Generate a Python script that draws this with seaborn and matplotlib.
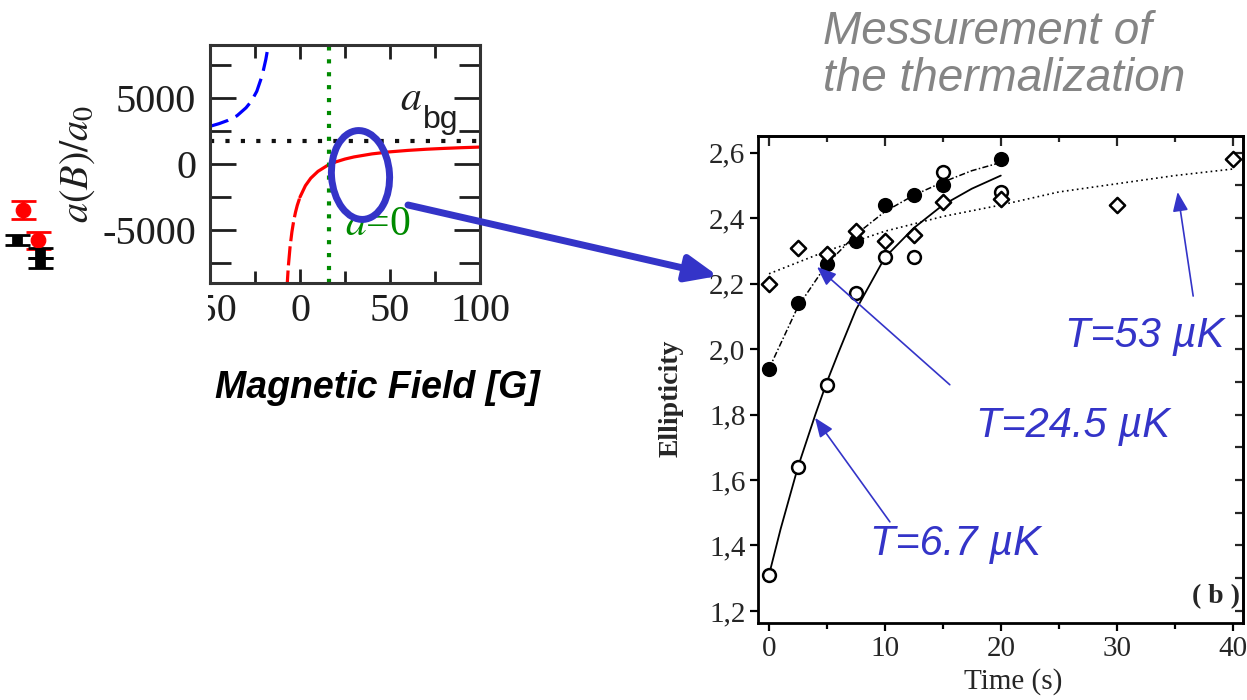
import matplotlib
matplotlib.use("Agg")
import matplotlib.pyplot as plt
import seaborn as sns
from matplotlib.patches import Ellipse, FancyArrowPatch, Rectangle
from matplotlib.ticker import MultipleLocator, NullFormatter

# ---------------- data: left panel (scattering length vs field) ----------------
field_upper_branch = [-50, -45, -40, -35, -30, -27, -24, -21, -19, -17.3]
a_upper_branch = [2850, 3050, 3300, 3650, 4250, 4750, 5500, 6700, 7900, 9200]
field_lower_dashed = [-7.3, -6.5, -5.5, -4.5, -3.5, -2.5, -1.5, 0]
a_lower_dashed = [-9500, -7770, -6240, -5140, -4300, -3650, -3120, -2500]
field_lower_solid = [0, 3, 6, 10, 15, 20, 25, 30, 40, 50, 60, 70, 80, 90, 100]
a_lower_solid = [-2500, -1640, -1070, -555, -130, 165, 375, 535, 765, 920,
                 1030, 1115, 1180, 1235, 1280]
a_background = 1750
field_zero_crossing = 16
field_ticks = [-50, 0, 50, 100]
field_tick_labels = ["-50", "0", "50", "100"]
a_ticks = [-5000, 0, 5000]
a_tick_labels = ["-5000", "0", "5000"]

# fragments of a neighbouring (cropped) figure visible at the far left
crop_red_field = [-153.9, -145.6]
crop_red_a = [-3480, -5760]
crop_black_field = [-144.4, -144.4, -157.2]
crop_black_a = [-6740, -7500, -5760]

# ---------------- data: right panel (ellipticity vs time) ----------------
time_s = [0, 2.5, 5, 7.5, 10, 12.5, 15, 20]
ell_24_5 = [1.94, 2.14, 2.26, 2.33, 2.44, 2.47, 2.50, 2.58]
ell_6_7 = [1.31, 1.64, 1.89, 2.17, 2.28, 2.28, 2.54, 2.48]
time_53 = [0, 2.5, 5, 7.5, 10, 12.5, 15, 20, 30, 40]
ell_53 = [2.20, 2.31, 2.29, 2.36, 2.33, 2.35, 2.45, 2.46, 2.44, 2.58]

fit_time_24_5 = [0, 2.5, 5, 7.5, 10, 12.5, 15, 17.5, 20]
fit_24_5 = [1.94, 2.13, 2.26, 2.35, 2.42, 2.47, 2.51, 2.545, 2.57]
fit_time_6_7 = [0, 1, 2.5, 4, 5, 6, 7.5, 10, 12.5, 15, 17.5, 20]
fit_6_7 = [1.31, 1.45, 1.64, 1.80, 1.90, 1.99, 2.12, 2.28, 2.37, 2.44, 2.49, 2.53]
fit_time_53 = [0, 5, 10, 15, 20, 25, 30, 35, 40]
fit_53 = [2.23, 2.30, 2.36, 2.405, 2.44, 2.48, 2.505, 2.53, 2.55]

time_ticks = [0, 10, 20, 30, 40]
time_tick_labels = ["0", "10", "20", "30", "40"]
ell_ticks = [1.2, 1.4, 1.6, 1.8, 2.0, 2.2, 2.4, 2.6]
ell_tick_labels = ["1,2", "1,4", "1,6", "1,8", "2,0", "2,2", "2,4", "2,6"]

labels_T = ["T=53 µK", "T=24.5 µK", "T=6.7 µK"]
title_lines = ["Messurement of", "the thermalization"]

# ---------------- style ----------------
sns.set_style("ticks")
plt.rcParams["font.family"] = ["Liberation Serif", "DejaVu Serif"]
plt.rcParams["mathtext.fontset"] = "stix"

W, H = 1247, 700
fig = plt.figure(figsize=(W / 100, H / 100), dpi=100)
fig.patch.set_facecolor("white")


def fig_rect(x0, y0, x1, y1):
    return [x0 / W, 1 - y1 / H, (x1 - x0) / W, (y1 - y0) / H]


BLUE = "#3434c8"
GREEN = "#008a00"
DARK = "#1e1e1e"
SANS = ["Liberation Sans", "DejaVu Sans"]

# ================= left panel =================
ax1 = fig.add_axes(fig_rect(210, 45, 480, 283))
sns.lineplot(x=field_upper_branch, y=a_upper_branch, ax=ax1, color="#0000ff",
             lw=2.3, linestyle=(0, (6, 2.6)), sort=False, estimator=None)
sns.lineplot(x=field_lower_dashed, y=a_lower_dashed, ax=ax1, color="#ff0000",
             lw=2.3, linestyle=(0, (6, 1.6)), sort=False, estimator=None)
sns.lineplot(x=field_lower_solid, y=a_lower_solid, ax=ax1, color="#ff0000",
             lw=2.3, sort=False, estimator=None)
ax1.axhline(a_background, color="#111111", lw=3, linestyle=(0, (1, 2.7)))
ax1.axvline(field_zero_crossing, color=GREEN, lw=3, linestyle=(0, (1, 2.1)))

ax1.set_xlim(-50, 100)
ax1.set_ylim(-9000, 9000)
ax1.set_xticks(field_ticks, labels=field_tick_labels)
ax1.set_yticks(a_ticks, labels=a_tick_labels)
ax1.xaxis.set_minor_locator(MultipleLocator(25))
ax1.yaxis.set_minor_locator(MultipleLocator(2500))
ax1.tick_params(which="both", direction="in", top=True, right=True, width=2,
                color=DARK, labelcolor=DARK, labelsize=29)
ax1.tick_params(axis="y", which="major", length=19, pad=10)
ax1.tick_params(axis="y", which="minor", length=15)
ax1.tick_params(axis="x", which="major", length=10, pad=7)
ax1.tick_params(axis="x", which="minor", length=9)
for sp in ax1.spines.values():
    sp.set_linewidth(2.2)
    sp.set_color("#333333")
ax1.set_xlabel("")
ax1.set_ylabel(r"$a(B)/a_0$", fontsize=29, color=DARK)
ax1.yaxis.set_label_coords(-0.42, 0.5)

ax1.text(55.6, 4090, r"$a$", fontsize=30, color=DARK, va="baseline")
ax1.text(68.3, 2700, "bg", fontsize=23, color=DARK, va="baseline", family=SANS)
ax1.text(25, -5380, r"$a$=0", fontsize=30, color=GREEN, va="baseline")

# cropped neighbour figure fragments
eb = ax1.errorbar(crop_red_field, crop_red_a, yerr=650, fmt="none", ecolor="red",
                  elinewidth=2, capsize=9, capthick=2)
for group in eb.lines[1:]:
    for art in group:
        art.set_clip_on(False)
sns.scatterplot(x=crop_red_field, y=crop_red_a, ax=ax1, color="red", s=110,
                edgecolor="red", clip_on=False, zorder=4)
eb2 = ax1.errorbar(crop_black_field, crop_black_a, yerr=380, fmt="none",
                   ecolor="black", elinewidth=2, capsize=9, capthick=2)
for group in eb2.lines[1:]:
    for art in group:
        art.set_clip_on(False)
sns.scatterplot(x=crop_black_field, y=crop_black_a, ax=ax1, color="black",
                marker="s", s=45, edgecolor="black", clip_on=False, zorder=4)

# ================= right panel =================
ax2 = fig.add_axes(fig_rect(758, 136, 1243, 623))
sns.lineplot(x=fit_time_24_5, y=fit_24_5, ax=ax2, color="black", lw=1.1,
             linestyle=(0, (4, 1.5, 1, 1.5)), sort=False, estimator=None)
sns.lineplot(x=fit_time_6_7, y=fit_6_7, ax=ax2, color="black", lw=1.3,
             sort=False, estimator=None)
sns.lineplot(x=fit_time_53, y=fit_53, ax=ax2, color="black", lw=1.2,
             linestyle=(0, (1, 2)), sort=False, estimator=None)
sns.scatterplot(x=time_s, y=ell_24_5, ax=ax2, color="black", edgecolor="black",
                s=95, marker="o", linewidth=1.2, zorder=3)
sns.scatterplot(x=time_s, y=ell_6_7, ax=ax2, color="white", edgecolor="black",
                s=85, marker="o", linewidth=1.8, zorder=3)
sns.scatterplot(x=time_53, y=ell_53, ax=ax2, color="white", edgecolor="black",
                s=60, marker="D", linewidth=1.8, zorder=3)

ax2.set_xlim(-0.95, 40.9)
ax2.set_ylim(1.163, 2.651)
ax2.set_xticks(time_ticks, labels=time_tick_labels)
ax2.set_yticks(ell_ticks, labels=ell_tick_labels)
ax2.xaxis.set_minor_locator(MultipleLocator(5))
ax2.tick_params(which="both", direction="out", top=False, right=False,
                width=1.6, color="black", labelsize=21, pad=3)
ax2.tick_params(which="major", length=6)
ax2.tick_params(which="minor", length=4)
for sp in ax2.spines.values():
    sp.set_linewidth(2)
    sp.set_color("black")

secx = ax2.secondary_xaxis("top")
secx.set_xticks(time_ticks)
secx.xaxis.set_major_formatter(NullFormatter())
secx.xaxis.set_minor_locator(MultipleLocator(5))
secx.tick_params(which="both", direction="in", width=1.6, labeltop=False)
secx.tick_params(which="major", length=7)
secx.tick_params(which="minor", length=4)
secx.spines["top"].set_linewidth(2)

secy = ax2.secondary_yaxis("right")
secy.set_yticks(ell_ticks)
secy.yaxis.set_major_formatter(NullFormatter())
secy.yaxis.set_minor_locator(MultipleLocator(0.1))
secy.tick_params(which="both", direction="in", width=1.6, labelright=False)
secy.tick_params(which="major", length=6)
secy.tick_params(which="minor", length=6)
secy.spines["right"].set_linewidth(2)

ax2.set_xlabel("Time (s)", fontsize=21)
ax2.xaxis.set_label_coords(0.526, -0.092)
ax2.set_ylabel("Ellipticity", fontsize=20, fontweight="bold")
ax2.yaxis.set_label_coords(-0.153, 0.462)
ax2.text(38.6, 1.245, "( b )", fontsize=20, fontweight="bold", ha="center", va="center")

# blue annotations
arrow_kw = dict(arrowstyle="-|>,head_length=0.9,head_width=0.36", color=BLUE,
                lw=1.2, mutation_scale=13, shrinkA=0, shrinkB=0)
ax2.annotate("", xy=(35.26, 2.48), xytext=(36.6, 2.162), arrowprops=arrow_kw)
ax2.annotate("", xy=(4.14, 2.251), xytext=(15.6, 1.891), arrowprops=arrow_kw)
ax2.annotate("", xy=(3.97, 1.79), xytext=(10.43, 1.472), arrowprops=arrow_kw)
for (tx, ty), lab in zip([(25.5, 2.007), (17.9, 1.732), (8.7, 1.371)], labels_T):
    ax2.text(tx, ty, lab, fontsize=30, fontstyle="italic", color=BLUE,
             family=SANS, ha="left", va="baseline")

# ================= overlay: ellipse, big arrow, texts =================
ax0 = fig.add_axes([0, 0, 1, 1], zorder=5)
ax0.set_xlim(0, W)
ax0.set_ylim(H, 0)
ax0.axis("off")
ax0.patch.set_visible(False)
ax0.add_patch(Rectangle((0, 287), 208, 50, facecolor="white", edgecolor="none"))
ax0.add_patch(Ellipse((360.5, 175), 58, 89, angle=-4, fill=False,
                      edgecolor=BLUE, lw=5))
ax0.add_patch(FancyArrowPatch((408, 205), (718, 276),
                              arrowstyle="-|>,head_length=0.85,head_width=0.36",
                              mutation_scale=22, lw=5, color=BLUE,
                              shrinkA=0, shrinkB=0))

fig.text(823 / W, 1 - 44 / H, title_lines[0], fontsize=33, style="italic",
         color="#858585", family=SANS, va="baseline", ha="left")
fig.text(823 / W, 1 - 91 / H, title_lines[1], fontsize=33, style="italic",
         color="#858585", family=SANS, va="baseline", ha="left")
fig.text(377 / W, 1 - 398 / H, "Magnetic Field [G]", fontsize=27, weight="bold",
         style="italic", family=SANS, ha="center", va="baseline", color="black")

fig.savefig("out.png", dpi=100, facecolor="white")
